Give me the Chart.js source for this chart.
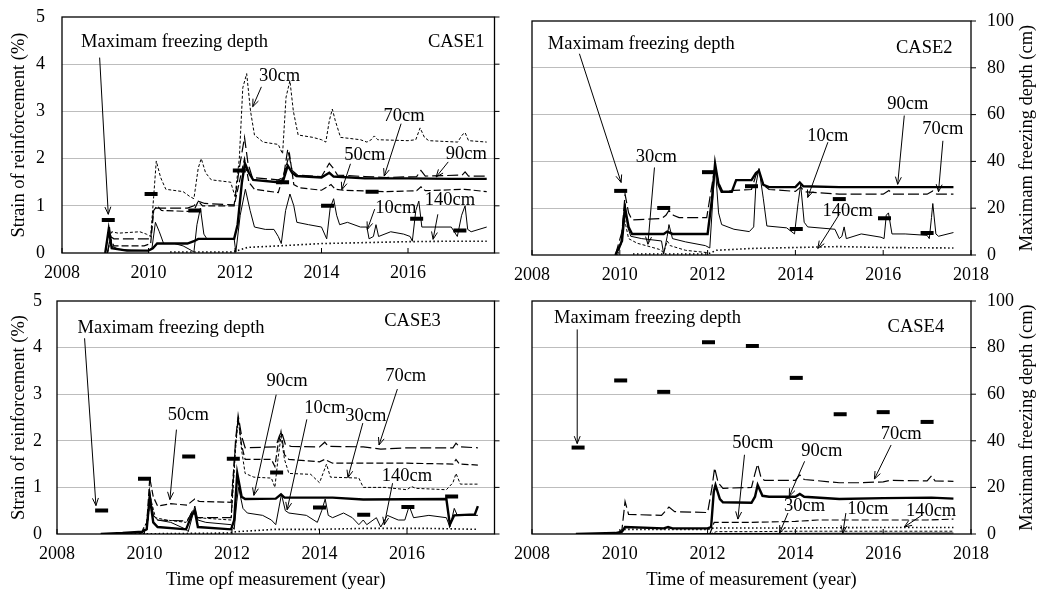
<!DOCTYPE html>
<html>
<head>
<meta charset="utf-8">
<script src="https://cdn.jsdelivr.net/npm/chart.js@4.4.1/dist/chart.umd.min.js"></script>
<style>
  body { margin: 0; background: #fff; width: 1037px; height: 589px; overflow: hidden; position: relative; }
  canvas { position: absolute; }
</style>
</head>
<body>
<canvas id="case1" width="505" height="285" style="left:0;top:0"></canvas>
<canvas id="case2" width="532" height="285" style="left:505px;top:0"></canvas>
<canvas id="case3" width="505" height="304" style="left:0;top:285px"></canvas>
<canvas id="case4" width="532" height="304" style="left:505px;top:285px"></canvas>
<script>
// ---- axes ----
const yearTicks = [2008, 2010, 2012, 2014, 2016, 2018];
const strainTicks = [0, 1, 2, 3, 4, 5];
const depthTicks = [0, 20, 40, 60, 80, 100];
const depthNames = ['10cm', '30cm', '50cm', '70cm', '90cm', '140cm'];

// ---- CASE1: strain (%) by time (year) ----
const case1_10cm = [[2009.0,0],[2009.05,0.3],[2009.1,0.55],[2009.15,0.15],[2009.3,0.08],[2009.6,0.06],[2010.0,0.05],[2010.08,0.1],[2010.16,0.65],[2010.25,0.45],[2010.35,0.2],[2010.6,0.2],[2010.8,0.15],[2011.0,0.05],[2011.05,0.02],[2011.12,0.6],[2011.2,0.95],[2011.28,0.4],[2011.35,0.3],[2011.98,0.3],[2012.02,0.02],[2012.12,0.8],[2012.24,1.35],[2012.35,0.9],[2012.45,0.55],[2012.7,0.5],[2012.9,0.5],[2013.0,0.35],[2013.07,0.2],[2013.17,0.9],[2013.27,1.25],[2013.36,1.0],[2013.43,0.65],[2013.7,0.6],[2014.0,0.55],[2014.12,0.3],[2014.2,0.95],[2014.28,1.15],[2014.35,0.8],[2014.42,0.6],[2014.6,0.65],[2014.9,0.55],[2015.05,0.55],[2015.1,0.3],[2015.2,0.35],[2015.26,0.6],[2015.32,0.35],[2015.6,0.45],[2015.9,0.4],[2016.05,0.35],[2016.1,0.25],[2016.18,0.9],[2016.25,1.1],[2016.32,0.55],[2017.0,0.55],[2017.14,0.35],[2017.24,0.8],[2017.32,1.0],[2017.38,0.5],[2017.46,0.45],[2017.82,0.55]];
const case1_30cm = [[2009.05,0],[2009.1,0.2],[2009.15,0.45],[2009.3,0.42],[2009.8,0.45],[2009.95,0.4],[2010.05,0.35],[2010.12,1.2],[2010.18,1.95],[2010.28,1.6],[2010.4,1.35],[2010.8,1.3],[2010.95,1.2],[2011.05,1.15],[2011.15,1.8],[2011.22,2.0],[2011.32,1.7],[2011.45,1.55],[2011.9,1.5],[2012.0,1.2],[2012.1,2.0],[2012.18,3.5],[2012.27,3.8],[2012.36,3.0],[2012.45,2.5],[2012.65,2.35],[2013.0,2.3],[2013.1,2.1],[2013.18,3.3],[2013.27,3.65],[2013.35,3.0],[2013.46,2.5],[2013.8,2.45],[2014.0,2.4],[2014.1,2.35],[2014.18,2.8],[2014.25,3.05],[2014.32,2.8],[2014.44,2.45],[2014.9,2.4],[2015.05,2.35],[2015.15,2.4],[2015.22,2.48],[2015.3,2.4],[2016.0,2.38],[2016.18,2.4],[2016.28,2.65],[2016.38,2.45],[2016.48,2.38],[2017.15,2.35],[2017.25,2.5],[2017.32,2.55],[2017.4,2.38],[2017.82,2.35]];
const case1_50cm = [[2009.05,0],[2009.12,0.3],[2009.2,0.15],[2009.9,0.15],[2010.05,0.2],[2010.12,0.9],[2010.2,1.0],[2010.3,0.9],[2010.95,0.88],[2011.05,0.9],[2011.15,1.1],[2011.25,1.0],[2011.98,1.0],[2012.1,1.5],[2012.22,2.0],[2012.32,1.5],[2012.45,1.35],[2013.0,1.28],[2013.17,1.8],[2013.26,2.1],[2013.36,1.45],[2013.5,1.38],[2014.0,1.33],[2014.22,1.45],[2014.32,1.35],[2014.5,1.33],[2015.5,1.3],[2016.2,1.32],[2016.3,1.4],[2016.4,1.32],[2017.3,1.35],[2017.82,1.3]];
const case1_70cm = [[2009.05,0],[2009.12,0.35],[2009.2,0.3],[2009.9,0.3],[2010.05,0.3],[2010.12,0.95],[2010.3,0.95],[2010.9,0.95],[2011.05,1.0],[2011.15,1.1],[2011.3,1.05],[2011.98,1.02],[2012.1,1.8],[2012.22,2.45],[2012.3,1.9],[2012.4,1.6],[2013.0,1.55],[2013.12,1.6],[2013.22,2.2],[2013.32,1.75],[2013.45,1.65],[2014.0,1.62],[2014.18,1.9],[2014.27,1.8],[2014.37,1.65],[2015.0,1.62],[2015.5,1.6],[2016.2,1.62],[2016.3,1.75],[2016.4,1.63],[2017.25,1.65],[2017.32,1.72],[2017.4,1.63],[2017.82,1.63]];
const case1_90cm = [[2009.0,0],[2009.08,0.5],[2009.15,0.1],[2009.5,0.05],[2010.0,0.05],[2010.1,0.1],[2010.2,0.2],[2010.9,0.2],[2011.05,0.25],[2011.15,0.3],[2011.98,0.3],[2012.06,0.6],[2012.16,1.5],[2012.23,1.9],[2012.32,1.7],[2012.42,1.55],[2013.0,1.5],[2013.12,1.55],[2013.22,1.85],[2013.32,1.7],[2013.42,1.63],[2014.0,1.6],[2014.18,1.7],[2014.28,1.62],[2015.0,1.58],[2016.0,1.58],[2017.0,1.57],[2017.82,1.57]];
const case1_140cm = [[2010.5,0.02],[2011.0,0.02],[2011.9,0.02],[2012.05,0.05],[2012.3,0.12],[2013.0,0.15],[2014.0,0.2],[2015.0,0.22],[2016.0,0.24],[2017.0,0.25],[2017.82,0.25]];
const case1DepthYear = [2009.07, 2010.06, 2011.07, 2012.1, 2013.1, 2014.14, 2015.17, 2016.2, 2017.2];
const case1DepthCm = [14, 25, 18, 35, 30, 20, 26, 14.5, 9.5];

// ---- CASE2 ----
const case2_10cm = [[2009.9,0],[2010.02,0.2],[2010.08,0.8],[2010.12,1.1],[2010.18,0.6],[2010.25,0.4],[2010.5,0.35],[2010.95,0.3],[2011.0,0.02],[2011.08,0.4],[2011.12,0.65],[2011.2,0.35],[2011.5,0.28],[2011.95,0.2],[2012.05,0.15],[2012.12,1.2],[2012.17,1.95],[2012.25,0.9],[2012.32,0.65],[2012.6,0.55],[2012.95,0.5],[2013.05,0.6],[2013.1,1.5],[2013.17,1.85],[2013.27,1.2],[2013.35,0.62],[2013.8,0.58],[2013.98,0.45],[2014.06,1.1],[2014.12,1.5],[2014.2,0.7],[2014.28,0.6],[2014.9,0.55],[2015.0,0.35],[2015.06,0.4],[2015.11,0.6],[2015.16,0.35],[2015.5,0.45],[2015.95,0.38],[2016.02,0.35],[2016.07,0.85],[2016.12,0.9],[2016.2,0.45],[2016.5,0.45],[2017.0,0.42],[2017.05,0.35],[2017.1,0.8],[2017.13,1.1],[2017.2,0.45],[2017.26,0.4],[2017.6,0.48]];
const case2_30cm = [[2009.95,0],[2010.05,0.3],[2010.1,0.8],[2010.2,0.35],[2010.4,0.25],[2010.6,0.2],[2010.9,0.12],[2011.0,0.05],[2011.08,0.3],[2011.15,0.2],[2011.5,0.1],[2012.0,0.05]];
const case2_50cm = [];
const case2_70cm = [[2009.9,0],[2010.05,0.5],[2010.12,1.3],[2010.2,0.9],[2010.28,0.75],[2010.95,0.78],[2011.05,0.85],[2011.12,0.95],[2011.22,0.85],[2011.35,0.8],[2011.98,0.8],[2012.1,1.5],[2012.17,1.9],[2012.25,1.55],[2012.35,1.35],[2012.6,1.38],[2013.0,1.4],[2013.1,1.7],[2013.17,1.8],[2013.27,1.5],[2013.4,1.4],[2014.0,1.36],[2014.12,1.45],[2014.22,1.35],[2015.0,1.3],[2016.0,1.3],[2016.13,1.38],[2016.22,1.3],[2017.0,1.3],[2017.13,1.37],[2017.22,1.3],[2017.6,1.3]];
const case2_90cm = [[2009.9,0],[2010.05,0.3],[2010.12,1.0],[2010.2,0.6],[2010.28,0.45],[2011.0,0.45],[2011.08,0.5],[2011.2,0.45],[2012.0,0.45],[2012.1,1.2],[2012.17,1.95],[2012.25,1.5],[2012.32,1.35],[2012.55,1.35],[2012.65,1.6],[2013.0,1.6],[2013.1,1.75],[2013.17,1.8],[2013.27,1.5],[2013.4,1.45],[2014.0,1.45],[2014.1,1.55],[2014.18,1.47],[2015.0,1.45],[2016.0,1.45],[2017.0,1.45],[2017.6,1.45]];
const case2_140cm = [[2010.3,0.02],[2012.0,0.02],[2012.2,0.1],[2013.0,0.14],[2014.0,0.16],[2015.0,0.18],[2016.0,0.16],[2017.6,0.15]];
const case2DepthYear = [2010.02, 2011.0, 2012.02, 2013.0, 2014.02, 2015.0, 2016.03, 2017.0];
const case2DepthCm = [27.4, 20.1, 35.4, 29.4, 11.1, 23.9, 15.7, 9.4];

// ---- CASE3 ----
const case3_10cm = [[2009.0,0],[2009.9,0.02],[2010.05,0.1],[2010.12,0.7],[2010.2,0.4],[2010.3,0.3],[2010.6,0.25],[2010.95,0.1],[2011.0,0.05],[2011.1,0.4],[2011.15,0.6],[2011.22,0.3],[2011.4,0.25],[2011.98,0.2],[2012.05,0.1],[2012.11,0.7],[2012.15,1.0],[2012.25,0.55],[2012.35,0.45],[2012.7,0.4],[2012.9,0.3],[2013.0,0.2],[2013.08,0.6],[2013.13,0.85],[2013.22,0.5],[2013.3,0.45],[2013.7,0.4],[2013.95,0.25],[2014.05,0.5],[2014.13,0.75],[2014.2,0.4],[2014.3,0.35],[2014.55,0.45],[2014.75,0.35],[2014.9,0.2],[2015.0,0.3],[2015.08,0.2],[2015.3,0.35],[2015.4,0.15],[2015.55,0.4],[2015.8,0.3],[2015.95,0.3],[2016.05,0.6],[2016.15,0.35],[2016.5,0.4],[2016.9,0.35],[2016.98,0.15],[2017.08,0.55],[2017.15,0.4],[2017.62,0.4]];
const case3_30cm = [[2009.9,0],[2010.08,0.3],[2010.13,0.8],[2010.25,0.35],[2010.5,0.3],[2010.95,0.25],[2011.1,0.5],[2011.2,0.35],[2011.98,0.3],[2012.08,1.8],[2012.14,2.5],[2012.22,1.8],[2012.3,1.3],[2012.5,1.22],[2012.9,1.2],[2012.98,1.0],[2013.05,1.6],[2013.12,2.1],[2013.2,1.6],[2013.3,1.3],[2013.8,1.28],[2014.0,1.1],[2014.08,1.3],[2014.16,1.5],[2014.25,1.22],[2014.9,1.2],[2015.0,1.0],[2015.5,1.0],[2016.0,0.95],[2016.1,1.02],[2016.2,0.98],[2016.9,0.95],[2017.05,1.1],[2017.12,1.3],[2017.22,1.07],[2017.62,1.07]];
const case3_50cm = [[2009.9,0],[2010.05,0.2],[2010.12,1.2],[2010.2,0.8],[2010.3,0.6],[2010.6,0.65],[2010.98,0.62],[2011.08,0.7],[2011.15,0.75],[2011.25,0.7],[2011.98,0.68],[2012.08,1.9],[2012.14,2.5],[2012.22,1.9],[2012.3,1.6],[2012.9,1.6],[2012.98,1.45],[2013.05,1.9],[2013.12,2.2],[2013.2,1.7],[2013.3,1.6],[2014.0,1.55],[2014.12,1.6],[2014.3,1.52],[2015.0,1.52],[2016.0,1.52],[2017.05,1.5],[2017.12,1.6],[2017.2,1.5],[2017.62,1.48]];
const case3_70cm = [[2009.9,0],[2010.05,0.1],[2010.12,0.9],[2010.2,0.4],[2010.3,0.3],[2010.98,0.28],[2011.1,0.5],[2011.2,0.35],[2011.98,0.35],[2012.08,2.0],[2012.14,2.55],[2012.22,2.1],[2012.3,1.85],[2013.0,1.87],[2013.08,2.1],[2013.13,2.2],[2013.22,1.92],[2013.35,1.88],[2014.0,1.87],[2014.12,1.97],[2014.2,1.88],[2015.0,1.87],[2015.4,1.82],[2016.0,1.85],[2017.05,1.85],[2017.12,1.95],[2017.2,1.87],[2017.62,1.85]];
const case3_90cm = [[2009.0,0],[2009.5,0.02],[2009.95,0.05],[2010.05,0.1],[2010.12,0.8],[2010.2,0.25],[2010.3,0.15],[2010.95,0.1],[2011.08,0.4],[2011.15,0.5],[2011.22,0.15],[2011.98,0.1],[2012.05,0.3],[2012.12,1.3],[2012.22,0.8],[2012.3,0.75],[2013.0,0.76],[2013.12,0.85],[2013.2,0.78],[2014.3,0.78],[2015.0,0.74],[2016.9,0.75],[2016.98,0.2],[2017.08,0.4],[2017.55,0.42],[2017.62,0.6]];
const case3_140cm = [[2009.5,0],[2011.9,0.02],[2012.1,0.05],[2013.0,0.1],[2014.0,0.1],[2015.0,0.12],[2016.5,0.12],[2017.62,0.1]];
const case3DepthYear = [2009.02, 2010.0, 2011.01, 2012.03, 2013.02, 2014.0, 2015.01, 2016.02, 2017.02];
const case3DepthCm = [10.1, 23.7, 33.3, 32.3, 26.4, 11.4, 8.3, 11.6, 16.1];

// ---- CASE4 ----
const case4_10cm = [[2009.0,0],[2012.1,0.01],[2017.6,0.02]];
const case4_30cm = [[2012.05,0],[2012.2,0.05],[2013.0,0.05],[2014.0,0.06],[2015.0,0.06],[2016.0,0.06],[2017.6,0.06]];
const case4_50cm = [[2012.05,0],[2012.15,0.25],[2013.0,0.25],[2014.0,0.27],[2014.5,0.3],[2015.5,0.3],[2017.0,0.3],[2017.6,0.32]];
const case4_70cm = [[2009.95,0],[2010.05,0.1],[2010.12,0.7],[2010.2,0.42],[2010.95,0.4],[2011.05,0.5],[2011.12,0.58],[2011.25,0.48],[2012.0,0.46],[2012.1,1.0],[2012.16,1.42],[2012.24,1.1],[2012.35,0.98],[2013.0,1.0],[2013.08,1.3],[2013.14,1.5],[2013.22,1.2],[2013.3,1.15],[2014.0,1.15],[2014.1,1.27],[2014.2,1.17],[2015.0,1.1],[2015.5,1.1],[2016.0,1.12],[2016.15,1.15],[2017.0,1.14],[2017.1,1.25],[2017.18,1.14],[2017.6,1.13]];
const case4_90cm = [[2009.0,0],[2009.9,0.02],[2010.05,0.05],[2010.12,0.15],[2011.0,0.12],[2011.1,0.15],[2011.2,0.12],[2012.0,0.12],[2012.08,0.15],[2012.14,0.9],[2012.18,1.05],[2012.28,0.75],[2012.35,0.68],[2013.0,0.67],[2013.08,0.8],[2013.14,1.05],[2013.25,0.82],[2013.4,0.8],[2014.0,0.8],[2014.1,0.86],[2014.2,0.8],[2015.0,0.75],[2016.0,0.77],[2017.1,0.78],[2017.6,0.76]];
const case4_140cm = [[2010.1,0.1],[2012.0,0.1],[2012.15,0.13],[2014.0,0.13],[2016.0,0.14],[2017.6,0.14]];
const case4DepthYear = [2009.05, 2010.02, 2011.0, 2012.02, 2013.02, 2014.02, 2015.02, 2016.0, 2017.0];
const case4DepthCm = [37.1, 65.9, 61.0, 82.3, 80.7, 67.0, 51.4, 52.3, 48.1];

const SERIF = '"Liberation Serif", "Times New Roman", serif';
const lineStyle = {
  '10cm': {borderWidth: 1},
  '30cm': {borderWidth: 1, borderDash: [3, 2]},
  '50cm': {borderWidth: 1.2, borderDash: [7, 3]},
  '70cm': {borderWidth: 1.2, borderDash: [11, 4]},
  '90cm': {borderWidth: 2.4},
  '140cm': {borderWidth: 1.6, borderDash: [1.5, 2.5]}
};

function drawArrow(ctx, x0, y0, x1, y1) {
  const ang = Math.atan2(y1 - y0, x1 - x0), len = 8, w = 0.38;
  ctx.beginPath();
  ctx.moveTo(x0, y0);
  ctx.lineTo(x1, y1);
  ctx.moveTo(x1 - len * Math.cos(ang - w), y1 - len * Math.sin(ang - w));
  ctx.lineTo(x1, y1);
  ctx.lineTo(x1 - len * Math.cos(ang + w), y1 - len * Math.sin(ang + w));
  ctx.stroke();
}

// frame, small tick marks, labels with arrows, right-hand title
const panelDecor = {
  id: 'panelDecor',
  afterDatasetsDraw(chart, args, opts) {
    const ctx = chart.ctx, a = chart.chartArea, xs = chart.scales.x, ys = chart.scales.y;
    ctx.save();
    ctx.strokeStyle = '#000';
    ctx.lineWidth = 1.3;
    ctx.strokeRect(a.left, a.top, a.right - a.left, a.bottom - a.top);
    ctx.lineWidth = 1;
    ctx.beginPath();
    yearTicks.forEach(function (v) {
      const px = xs.getPixelForValue(v);
      ctx.moveTo(px, a.bottom);
      ctx.lineTo(px, a.bottom - 5);
    });
    strainTicks.forEach(function (v) {
      const py = ys.getPixelForValue(v);
      ctx.moveTo(a.right, py);
      ctx.lineTo(a.right + 5, py);
    });
    ctx.stroke();

    ctx.fillStyle = '#000';
    ctx.font = '18.5px ' + SERIF;
    ctx.textBaseline = 'middle';
    opts.notes.forEach(function (n) {
      ctx.textAlign = n.align || 'center';
      ctx.fillText(n.text, xs.getPixelForValue(n.x), ys.getPixelForValue(n.y));
      if (n.arrow) {
        drawArrow(ctx, xs.getPixelForValue(n.arrow[0]), ys.getPixelForValue(n.arrow[1]),
          xs.getPixelForValue(n.arrow[2]), ys.getPixelForValue(n.arrow[3]));
      }
    });

    if (opts.rightTitle) {
      ctx.translate(chart.width - 9.5, (a.top + a.bottom) / 2);
      ctx.rotate(-Math.PI / 2);
      ctx.textAlign = 'center';
      ctx.fillText(opts.rightTitle, 0, 0);
    }
    ctx.restore();
  }
};

function gridColor(max) {
  return function (c) {
    return c.tick && c.tick.value > 0 && c.tick.value < max ? '#bdbdbd' : 'rgba(0,0,0,0)';
  };
}

// pin an axis to a fixed size and drop the extra label padding Chart.js adds
function pinAxis(size, horizontal) {
  return function (s) {
    if (horizontal) s.height = size; else s.width = size;
    s.paddingTop = 0; s.paddingBottom = 0; s.paddingLeft = 0; s.paddingRight = 0;
  };
}

function makePanel(id, cfg) {
  const left = cfg.side === 'left';
  const datasets = [{
    data: cfg.depthYear.map(function (t, i) { return {x: t, y: cfg.depthCm[i]}; }),
    yAxisID: 'y2',
    showLine: false,
    pointStyle: 'line',
    pointRadius: 6.5,
    pointBorderWidth: 4,
    pointBorderColor: '#000',
    borderColor: '#000'
  }];
  depthNames.forEach(function (name) {
    const pts = cfg.series[name];
    if (!pts || !pts.length) return;
    datasets.push(Object.assign({
      label: name,
      data: pts.map(function (p) { return {x: p[0], y: p[1]}; }),
      yAxisID: 'y',
      borderColor: '#000',
      pointRadius: 0,
      fill: false,
      tension: 0
    }, lineStyle[name]));
  });

  const tickFont = {family: SERIF, size: 18};
  const titleFont = {family: SERIF, size: 18.5, lineHeight: 1};

  new Chart(document.getElementById(id), {
    type: 'line',
    data: {datasets: datasets},
    options: {
      responsive: false,
      animation: false,
      events: [],
      devicePixelRatio: 1,
      layout: {padding: {left: left ? 0 : 27, right: left ? 505 - cfg.plotRight : 0, top: cfg.top, bottom: 0}},
      plugins: {
        legend: {display: false},
        tooltip: {enabled: false},
        panelDecor: {notes: cfg.notes, rightTitle: left ? null : 'Maximam freezing depth (cm)'}
      },
      scales: {
        x: {
          type: 'linear', min: 2008, max: 2018,
          afterBuildTicks: function (s) { s.ticks = yearTicks.map(function (v) { return {value: v}; }); },
          ticks: {
            font: tickFont, color: '#000', padding: 9, maxRotation: 0, autoSkip: false,
            callback: function (v) { return left && v === 2018 ? '' : String(v); }
          },
          grid: {display: false, drawTicks: false, tickLength: 0},
          border: {display: false},
          title: {display: !!cfg.xTitle, text: cfg.xTitle || '', font: titleFont, color: '#000', padding: {top: 0, bottom: 0}},
          afterFit: pinAxis(cfg.xHeight, true)
        },
        y: {
          display: left, position: 'left', min: 0, max: 5,
          afterBuildTicks: function (s) { s.ticks = strainTicks.map(function (v) { return {value: v}; }); },
          ticks: {font: tickFont, color: '#000', padding: cfg.yPad || 17},
          grid: {color: gridColor(5), drawTicks: false, tickLength: 0},
          border: {display: false},
          title: {display: true, text: 'Strain of reinforcement (%)', font: titleFont, color: '#000', padding: {top: 10, bottom: 0}},
          afterFit: pinAxis(left ? cfg.plotLeft : 0, false)
        },
        y2: {
          display: !left, position: 'right', min: 0, max: 100,
          afterBuildTicks: function (s) { s.ticks = depthTicks.map(function (v) { return {value: v}; }); },
          ticks: {font: tickFont, color: '#000', padding: 16},
          grid: {color: gridColor(100), drawTicks: false, tickLength: 0},
          border: {display: false},
          afterFit: pinAxis(left ? 0 : 66, false)
        }
      }
    },
    plugins: [panelDecor]
  });
}

makePanel('case1', {
  side: 'left', plotLeft: 62, plotRight: 498, top: 17, xHeight: 32,
  series: {'10cm': case1_10cm, '30cm': case1_30cm, '50cm': case1_50cm, '70cm': case1_70cm, '90cm': case1_90cm, '140cm': case1_140cm},
  depthYear: case1DepthYear, depthCm: case1DepthCm,
  notes: [
    {text: 'Maximam freezing depth', x: 2008.44, y: 4.46, align: 'left', arrow: [2008.87, 4.14, 2009.07, 0.82]},
    {text: 'CASE1', x: 2016.46, y: 4.46, align: 'left'},
    {text: '30cm', x: 2013.03, y: 3.75, arrow: [2012.61, 3.52, 2012.41, 3.1]},
    {text: '70cm', x: 2015.91, y: 2.89, arrow: [2015.84, 2.74, 2015.45, 1.63]},
    {text: '50cm', x: 2015.0, y: 2.07, arrow: [2014.67, 1.89, 2014.47, 1.34]},
    {text: '90cm', x: 2017.35, y: 2.09, arrow: [2016.93, 1.93, 2016.65, 1.61]},
    {text: '10cm', x: 2015.72, y: 0.95, arrow: [2015.23, 0.93, 2015.06, 0.5]},
    {text: '140cm', x: 2016.97, y: 1.11, arrow: [2016.69, 0.82, 2016.58, 0.29]}
  ]
});

makePanel('case2', {
  side: 'right', top: 21, xHeight: 30,
  series: {'10cm': case2_10cm, '30cm': case2_30cm, '50cm': case2_50cm, '70cm': case2_70cm, '90cm': case2_90cm, '140cm': case2_140cm},
  depthYear: case2DepthYear, depthCm: case2DepthCm,
  notes: [
    {text: 'Maximam freezing depth', x: 2008.36, y: 4.51, align: 'left', arrow: [2009.08, 4.3, 2010.03, 1.55]},
    {text: 'CASE2', x: 2016.29, y: 4.41, align: 'left'},
    {text: '90cm', x: 2016.56, y: 3.23, arrow: [2016.48, 2.98, 2016.33, 1.51]},
    {text: '70cm', x: 2017.36, y: 2.69, arrow: [2017.36, 2.44, 2017.26, 1.35]},
    {text: '10cm', x: 2014.74, y: 2.55, arrow: [2014.74, 2.41, 2014.28, 1.23]},
    {text: '30cm', x: 2010.83, y: 2.09, arrow: [2010.79, 1.87, 2010.64, 0.23]},
    {text: '140cm', x: 2015.19, y: 0.94, arrow: [2015.0, 0.87, 2014.51, 0.14]}
  ]
});

makePanel('case3', {
  side: 'left', plotLeft: 57, plotRight: 501, top: 16, xHeight: 55, yPad: 15,
  xTitle: 'Time opf measurement (year)',
  series: {'10cm': case3_10cm, '30cm': case3_30cm, '50cm': case3_50cm, '70cm': case3_70cm, '90cm': case3_90cm, '140cm': case3_140cm},
  depthYear: case3DepthYear, depthCm: case3DepthCm,
  notes: [
    {text: 'Maximam freezing depth', x: 2008.47, y: 4.41, align: 'left', arrow: [2008.63, 4.2, 2008.89, 0.61]},
    {text: 'CASE3', x: 2015.48, y: 4.56, align: 'left'},
    {text: '50cm', x: 2011.0, y: 2.54, arrow: [2010.73, 2.24, 2010.58, 0.74]},
    {text: '90cm', x: 2013.26, y: 3.27, arrow: [2013.01, 2.99, 2012.5, 0.83]},
    {text: '10cm', x: 2014.12, y: 2.7, arrow: [2013.71, 2.46, 2013.26, 0.52]},
    {text: '30cm', x: 2015.06, y: 2.52, arrow: [2014.99, 2.38, 2014.65, 1.21]},
    {text: '70cm', x: 2015.97, y: 3.39, arrow: [2015.78, 3.11, 2015.36, 1.91]},
    {text: '140cm', x: 2016.0, y: 1.25, arrow: [2015.67, 1.09, 2015.48, 0.2]}
  ]
});

makePanel('case4', {
  side: 'right', top: 16, xHeight: 55,
  xTitle: 'Time of measurement (year)',
  series: {'10cm': case4_10cm, '30cm': case4_30cm, '50cm': case4_50cm, '70cm': case4_70cm, '90cm': case4_90cm, '140cm': case4_140cm},
  depthYear: case4DepthYear, depthCm: case4DepthCm,
  notes: [
    {text: 'Maximam freezing depth', x: 2008.5, y: 4.63, align: 'left', arrow: [2009.03, 4.39, 2009.03, 1.94]},
    {text: 'CASE4', x: 2016.1, y: 4.44, align: 'left'},
    {text: '50cm', x: 2013.03, y: 1.96, arrow: [2012.84, 1.7, 2012.69, 0.32]},
    {text: '90cm', x: 2014.6, y: 1.77, arrow: [2014.21, 1.56, 2013.86, 0.81]},
    {text: '70cm', x: 2016.41, y: 2.15, arrow: [2016.18, 1.91, 2015.8, 1.18]},
    {text: '30cm', x: 2014.21, y: 0.59, arrow: [2013.83, 0.45, 2013.64, 0.02]},
    {text: '10cm', x: 2015.65, y: 0.54, arrow: [2015.15, 0.45, 2015.08, 0.02]},
    {text: '140cm', x: 2017.09, y: 0.49, arrow: [2016.86, 0.39, 2016.48, 0.15]}
  ]
});
</script>
</body>
</html>
